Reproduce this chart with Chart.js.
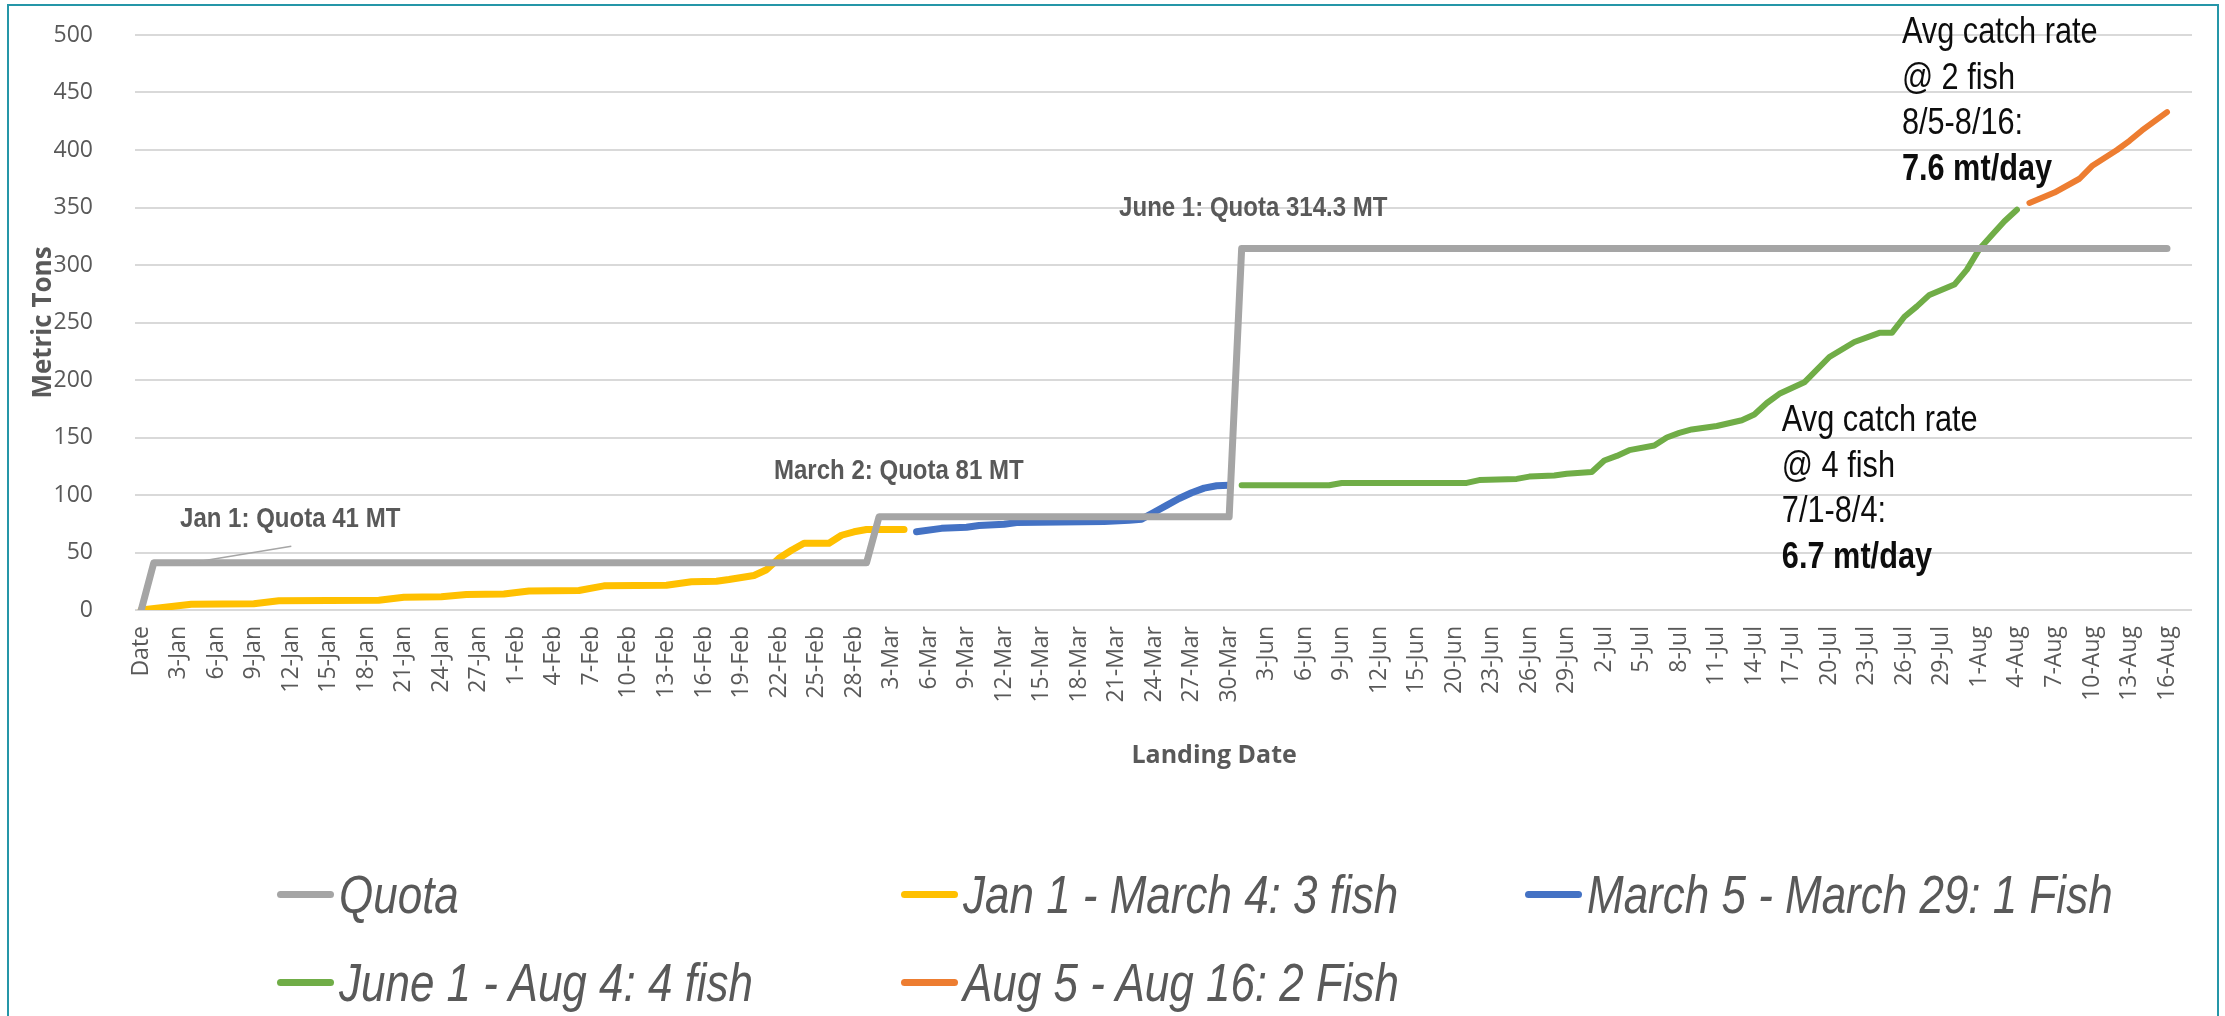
<!DOCTYPE html>
<html lang="en">
<head>
  <meta charset="UTF-8">
  <title>Landings vs Quota</title>
  <script src="https://cdn.jsdelivr.net/npm/chart.js"></script>
  <style>
    body {
      margin: 0;
      width: 2225px;
      height: 1016px;
      overflow: hidden;
      background: #fff;
      position: relative;
    }
    #frame {
      position: absolute;
      left: 7px;
      top: 4px;
      width: 2212px;
      height: 1100px;
      border: 2px solid #2596a8;
      box-sizing: border-box;
    }
    #chart {
      position: absolute;
      left: 0;
      top: 0;
    }
    #legend {
      position: absolute;
      left: 277px;
      top: 850px;
      display: grid;
      grid-template-columns: 624px 624px 624px;
      grid-auto-rows: 88px;
      font-family: 'Liberation Sans', sans-serif;
      font-style: italic;
      font-size: 53px;
      color: #595959;
    }
    .item {
      display: flex;
      align-items: center;
      white-space: nowrap;
    }
    .mark {
      flex: 0 0 57px;
      height: 7px;
      border-radius: 4px;
      margin-right: 5px;
    }
    .txt {
      display: inline-block;
      transform: scaleX(0.83);
      transform-origin: left center;
    }
  </style>
</head>
<body>
  <div id="frame"></div>
  <canvas id="chart" width="2225" height="775"></canvas>
  <div id="legend"></div>

  <script>
    // x = landing-day position (one step per category), tick label every 3rd
    const tickLabels = ['Date', '3-Jan', '6-Jan', '9-Jan', '12-Jan', '15-Jan', '18-Jan', '21-Jan', '24-Jan', '27-Jan',
      '1-Feb', '4-Feb', '7-Feb', '10-Feb', '13-Feb', '16-Feb', '19-Feb', '22-Feb', '25-Feb', '28-Feb',
      '3-Mar', '6-Mar', '9-Mar', '12-Mar', '15-Mar', '18-Mar', '21-Mar', '24-Mar', '27-Mar', '30-Mar',
      '3-Jun', '6-Jun', '9-Jun', '12-Jun', '15-Jun', '20-Jun', '23-Jun', '26-Jun', '29-Jun',
      '2-Jul', '5-Jul', '8-Jul', '11-Jul', '14-Jul', '17-Jul', '20-Jul', '23-Jul', '26-Jul', '29-Jul',
      '1-Aug', '4-Aug', '7-Aug', '10-Aug', '13-Aug', '16-Aug'];

    const quotaDays = [0, 1, 58, 59, 87, 88, 162];
    const quotaMT   = [0, 41, 41, 81, 81, 314.3, 314.3];

    const jan3Days = [0, 4, 9, 11, 19, 21, 24, 26, 29, 31, 35, 37, 42, 44, 46, 47, 49, 50, 51, 52, 53, 55, 56, 57, 58, 61];
    const jan3MT   = [0, 5, 5.5, 8, 8.5, 11, 11.5, 13.5, 14, 16.5, 17, 21, 21.5, 24.5, 25, 26.5, 30, 35, 45, 52, 58, 58, 65, 68, 70, 70];

    const mar1Days = [62, 64, 66, 67, 69, 70, 77, 79, 80, 81, 82, 83, 84, 85, 86, 87];
    const mar1MT   = [68, 71, 72, 73.5, 74.5, 76, 77, 78, 79, 85, 91, 97, 102, 106, 108, 108.5];

    const jun4Days = [88, 95, 96, 106, 107, 110, 111, 113, 114, 116, 117, 118, 119, 121, 122, 123, 124, 126, 128, 129,
      130, 131, 133, 135, 137, 139, 140, 141, 142, 143, 145, 146, 147, 148, 149, 150];
    const jun4MT   = [108.5, 108.5, 110.5, 110.5, 113, 114, 116, 117, 118.5, 120, 130, 134, 139, 143, 150, 154, 157, 160, 165, 170,
      180, 188, 198, 220, 233, 241, 241, 255, 264, 274, 283, 296, 314, 326, 338, 348];

    const aug2Days = [151, 153, 155, 156, 158, 159, 160, 162];
    const aug2MT   = [354, 363, 375, 386, 400, 408, 417, 433];

    const pts = (days, mt) => days.map((d, i) => ({ x: d, y: mt[i] }));

    const quotaNotes = [
      { text: 'Jan 1: Quota 41 MT', day: 3.1, mt: 79 },
      { text: 'March 2: Quota 81 MT', day: 50.6, mt: 120 },
      { text: 'June 1: Quota 314.3 MT', day: 78.2, mt: 348.7 }
    ];
    const rateNotes = [
      { lines: ['Avg catch rate', '@ 4 fish', '7/1-8/4:', '6.7 mt/day'], day: 131.2, mt: 164.3 },
      { lines: ['Avg catch rate', '@ 2 fish', '8/5-8/16:', '7.6 mt/day'], day: 140.8, mt: 501.7 }
    ];

    // no narrow font installed, so squeeze the regular one
    function narrowText(ctx, text, x, y, sx) {
      ctx.save();
      ctx.translate(x, y);
      ctx.scale(sx, 1);
      ctx.fillText(text, 0, 0);
      ctx.restore();
    }

    const notePlugin = {
      id: 'notes',
      afterDatasetsDraw(chart) {
        const { ctx, scales: { x, y } } = chart;
        ctx.save();
        // leader from the Jan 1 label down to the quota line
        ctx.strokeStyle = '#a6a6a6';
        ctx.lineWidth = 1.5;
        ctx.beginPath();
        ctx.moveTo(x.getPixelForValue(12), y.getPixelForValue(55.5));
        ctx.lineTo(x.getPixelForValue(4), y.getPixelForValue(41));
        ctx.stroke();

        ctx.textAlign = 'left';
        ctx.textBaseline = 'middle';
        ctx.fillStyle = '#595959';
        ctx.font = 'bold 27px "Liberation Sans", sans-serif';
        quotaNotes.forEach(n => narrowText(ctx, n.text, x.getPixelForValue(n.day), y.getPixelForValue(n.mt), 0.89));

        ctx.fillStyle = '#0d0d0d';
        rateNotes.forEach(n => {
          const px = x.getPixelForValue(n.day);
          const py = y.getPixelForValue(n.mt);
          n.lines.forEach((t, i) => {
            const last = i === n.lines.length - 1;
            ctx.font = (last ? 'bold ' : '') + '37px "Liberation Sans", sans-serif';
            narrowText(ctx, t, px, py + i * 45.5, 0.83);
          });
        });

        // x axis title sits a little right of the plot centre in the original
        ctx.textAlign = 'center';
        ctx.fillStyle = '#595959';
        ctx.font = 'bold 25px "Open Sans", sans-serif';
        ctx.fillText('Landing Date', x.getPixelForValue(85.8), x.bottom - 19);
        ctx.restore();
      }
    };

    const line = (label, color, data, width) => ({
      label: label,
      data: data,
      borderColor: color,
      backgroundColor: color,
      borderWidth: width,
      pointRadius: 0,
      borderCapStyle: 'round',
      borderJoinStyle: 'round',
      tension: 0
    });

    const ctx = document.getElementById('chart').getContext('2d');
    const chart = new Chart(ctx, {
      type: 'line',
      data: {
        datasets: [
          line('Quota', '#a5a5a5', pts(quotaDays, quotaMT), 7),
          line('Jan 1 - March 4: 3 fish', '#ffc000', pts(jan3Days, jan3MT), 7),
          line('March 5 - March 29: 1 Fish', '#4472c4', pts(mar1Days, mar1MT), 7),
          line('June 1 - Aug 4: 4 fish', '#70ad47', pts(jun4Days, jun4MT), 6),
          line('Aug 5 - Aug 16: 2 Fish', '#ed7d31', pts(aug2Days, aug2MT), 6)
        ]
      },
      options: {
        responsive: false,
        animation: false,
        layout: { padding: { left: 28, top: 35, right: 33, bottom: 0 } },
        plugins: {
          legend: { display: false },
          tooltip: { enabled: false }
        },
        scales: {
          x: {
            type: 'linear',
            min: -0.5,
            max: 164,
            afterFit: s => { s.height = 165; },
            afterBuildTicks: s => { s.ticks = tickLabels.map((_, i) => ({ value: i * 3 })); },
            grid: { display: false },
            border: { display: false },
            ticks: {
              autoSkip: false,
              minRotation: 90,
              maxRotation: 90,
              padding: 8,
              color: '#595959',
              font: { family: 'Open Sans', size: 23 },
              callback: v => tickLabels[v / 3]
            }
          },
          y: {
            min: 0,
            max: 500,
            afterFit: s => { s.width = 107; },
            // invisible tick marks keep the labels off the plot without padding the top
            grid: { color: '#d9d9d9', lineWidth: 2, drawTicks: true, tickLength: 24, tickColor: 'rgba(0,0,0,0)' },
            border: { display: false },
            ticks: {
              stepSize: 50,
              padding: 18,
              color: '#595959',
              font: { family: 'Open Sans', size: 23 }
            },
            title: {
              display: true,
              text: 'Metric Tons',
              color: '#595959',
              font: { family: 'Open Sans', size: 26, weight: 'bold' },
              padding: 0
            }
          }
        }
      },
      plugins: [notePlugin]
    });

    // legend laid out as a grid, like the original
    const legendEl = document.getElementById('legend');
    chart.data.datasets.forEach(ds => {
      const item = document.createElement('div');
      item.className = 'item';
      const mark = document.createElement('span');
      mark.className = 'mark';
      mark.style.background = ds.borderColor;
      const txt = document.createElement('span');
      txt.className = 'txt';
      txt.textContent = ds.label;
      item.appendChild(mark);
      item.appendChild(txt);
      legendEl.appendChild(item);
    });
  </script>
</body>
</html>
